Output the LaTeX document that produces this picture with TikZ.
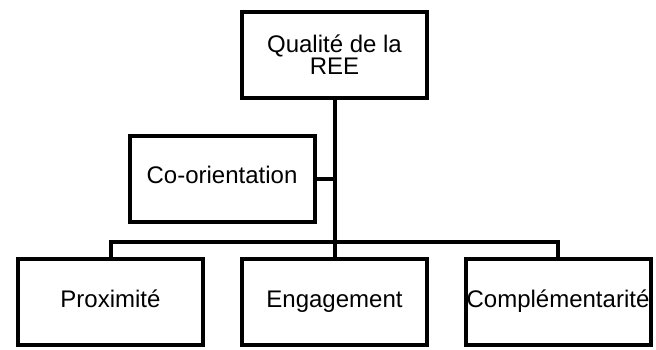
\documentclass[tikz,border=0pt]{standalone}
\usepackage{fontspec}
\setmainfont{Liberation Sans}

\begin{document}
\begin{tikzpicture}[x=1pt,y=-1pt,line width=4pt,
                    box/.style={draw,rectangle,inner sep=0pt,align=center,
                      minimum width=185pt,minimum height=86pt,
                      font=\fontsize{24}{22}\selectfont},
                    line/.style={text height=17pt,text depth=7pt}]

  \useasboundingbox (0,0) rectangle (656,349);

  \node[box]      (qual) at (334.5,55)    {Qualité de la\\REE};
  \node[box,line] (coor) at (222,178.5)   {Co-orientation};
  \node[box,line] (prox) at (110.5,302)   {Proximité};
  \node[box,line] (enga) at (334.5,302)   {Engagement};
  \node[box,line] (comp) at (558,302)     {Complémentarité};

  \coordinate (bar) at (334.5,242);

  \draw (qual.south) -- (enga.north);
  \draw (coor.east) -- (coor.east -| qual.south);
  \draw (prox.north) |- (bar) -| (comp.north);
\end{tikzpicture}
\end{document}
